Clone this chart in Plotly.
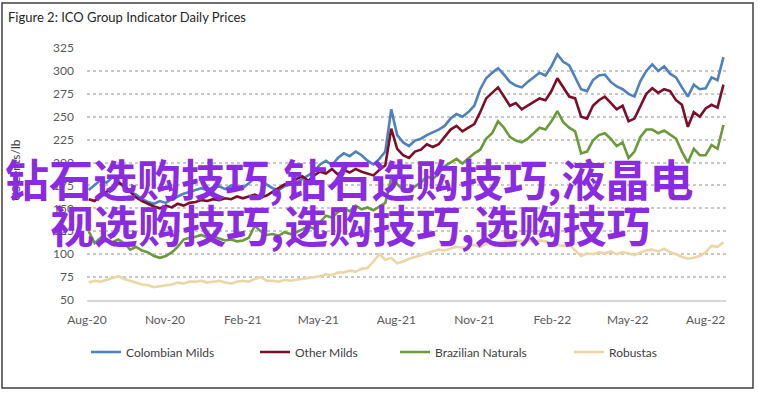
import pandas as pd
import plotly.graph_objects as go

# weekly sample dates (categories on the time axis)
dates = pd.date_range("2020-08-03", periods=108, freq="7D")

colombian_milds = [170, 175, 181, 178, 184, 180, 172, 168, 165, 160, 157, 155, 158, 156,
                   160, 163, 166, 168, 170, 172, 170, 173, 174, 171, 175, 173, 172,
                   178, 183, 180, 176, 172, 170, 174, 176, 178, 182, 186, 190,
                   198, 202, 197, 205, 210, 207, 212, 208, 202, 198, 204, 212, 258,
                   230, 222, 218, 224, 226, 230, 233, 236, 240, 248, 253, 250, 255,
                   262, 280, 292, 298, 303, 296, 288, 284, 282, 288, 293, 298, 295,
                   305, 318, 310, 306, 293, 280, 278, 290, 295, 296, 288, 283, 280,
                   275, 272, 289, 300, 307, 300, 305, 297, 293, 282, 272, 285, 280,
                   281, 293, 290, 315]

other_milds = [160, 158, 164, 168, 172, 178, 175, 168, 162, 158, 155, 152, 150, 153,
               151, 155, 153, 156, 157, 159, 158, 160, 159, 161, 160, 163, 161,
               163, 165, 162, 164, 168, 172, 176, 178, 182, 185, 180, 186,
               190, 188, 193, 187, 192, 189, 193, 190, 188, 186, 192, 197, 237,
               215, 208, 205, 212, 214, 220, 217, 220, 228, 236, 240, 234, 238,
               242, 255, 270, 276, 282, 272, 262, 265, 258, 262, 266, 270, 268,
               278, 292, 282, 272, 270, 250, 248, 262, 268, 272, 265, 258, 262,
               245, 248, 262, 275, 281, 276, 280, 278, 268, 263, 239, 255, 250,
               259, 263, 260, 285]

brazilian_naturals = [125, 112, 118, 115, 113, 116, 112, 105, 108, 104, 102, 98, 96, 98,
                      102, 108, 116, 118, 119, 121, 118, 120, 117, 115, 116, 114, 115,
                      118, 131, 125, 121, 122, 120, 124, 122, 124, 127, 130, 128,
                      135, 142, 140, 146, 150, 147, 153, 149, 151, 148, 152, 156, 183,
                      176, 170, 168, 174, 178, 185, 182, 188, 196, 200, 204, 199, 205,
                      210, 214, 226, 232, 245, 238, 228, 224, 222, 226, 232, 238, 236,
                      245, 256, 244, 238, 234, 210, 212, 224, 230, 232, 226, 218, 222,
                      205, 212, 228, 236, 236, 232, 235, 230, 226, 212, 200, 215, 208,
                      208, 219, 215, 241]

robustas = [69, 71, 70, 72, 74, 76, 73, 71, 69, 67, 66, 64, 65, 66,
            67, 69, 68, 70, 70, 71, 69, 70, 71, 69, 68, 70, 71,
            70, 73, 75, 71, 71, 70, 72, 71, 72, 73, 74, 75,
            76, 78, 77, 80, 80, 82, 81, 84, 85, 92, 100, 94, 96,
            90, 92, 95, 97, 99, 101, 103, 105, 104, 106, 108, 107, 109,
            110, 108, 111, 112, 113, 114, 116, 115, 114, 116, 113, 115, 114,
            112, 110, 109, 111, 104, 98, 101, 100, 102, 101, 103, 100, 102,
            101, 99, 102, 104, 105, 103, 106, 102, 100, 97, 95, 96, 98,
            102, 109, 108, 113]

series_names = ["Colombian Milds", "Other Milds", "Brazilian Naturals", "Robustas"]
series_colors = ["#4F81BD", "#7B0F27", "#6B9A3A", "#EBD6A4"]
series_values = [colombian_milds, other_milds, brazilian_naturals, robustas]

x_tick_vals = ["2020-08-01", "2020-11-01", "2021-02-01", "2021-05-01", "2021-08-01",
               "2021-11-01", "2022-02-01", "2022-05-01", "2022-08-01"]
x_tick_text = ["Aug-20", "Nov-20", "Feb-21", "May-21", "Aug-21",
               "Nov-21", "Feb-22", "May-22", "Aug-22"]
y_tick_vals = [50, 75, 100, 125, 150, 175, 200, 225, 250, 275, 300, 325]

# legend line-start pixel positions
legend_px = [93, 262, 402, 576]

W, H = 758, 393
L, R, T, B = 87, 32, 48, 93
pw, ph = W - L - R, H - T - B

def px_x(p):
    return (p - L) / pw

def px_y(p):
    return (H - B - p) / ph

fig = go.Figure()
legend_keys = ["legend", "legend2", "legend3", "legend4"]
for name, color, vals, lk in zip(series_names, series_colors, series_values, legend_keys):
    fig.add_trace(go.Scatter(x=dates, y=vals, mode="lines", name=name,
                             line=dict(color=color, width=2.6), legend=lk))

font_tick = dict(family="Lato, 'Open Sans', sans-serif", size=12, color="#595959")

legend_layout = {}
for lk, p in zip(legend_keys, legend_px):
    legend_layout[lk] = dict(x=px_x(p - 7), y=px_y(352), xanchor="left", yanchor="middle",
                             orientation="h", bgcolor="rgba(0,0,0,0)", borderwidth=0,
                             font=dict(family="Lato, 'Open Sans', sans-serif", size=12, color="#404040"))

fig.update_layout(
    width=W, height=H,
    margin=dict(l=L, r=R, t=T, b=B),
    paper_bgcolor="white", plot_bgcolor="white",
    title=dict(text="Figure 2: ICO Group Indicator Daily Prices", x=8 / W, xanchor="left",
               xref="container", y=1 - 17 / H, yanchor="middle", yref="container",
               font=dict(family="Lato, 'Open Sans', sans-serif", size=13, color="#262626")),
    xaxis=dict(type="date", range=["2020-08-01", "2022-08-25"], tickvals=x_tick_vals,
               ticktext=x_tick_text, showgrid=False, showline=True, linecolor="#D9D9D9",
               linewidth=1.5, ticks="", tickfont=font_tick, ticklabelstandoff=8,
               zeroline=False),
    yaxis=dict(range=[50, 325], tickvals=y_tick_vals, showgrid=True, gridcolor="#C8C8C8",
               griddash="dot", gridwidth=1.5, ticks="", tickfont=font_tick,
               ticklabelstandoff=12, zeroline=False, showline=False),
    showlegend=True,
    **legend_layout,
)

fig.add_annotation(text="US cents/lb", x=px_x(15), y=px_y(170), xref="paper", yref="paper",
                   textangle=-90, showarrow=False, xanchor="center", yanchor="middle",
                   font=dict(family="Lato, 'Open Sans', sans-serif", size=12, color="#404040"))

overlay_font = dict(family="'Noto Sans CJK SC', sans-serif", size=44, color="#8A2BE2", weight="bold")
fig.add_annotation(text="钻石选购技巧,钻石选购技巧,液晶电", x=px_x(349), y=px_y(178),
                   xref="paper", yref="paper", showarrow=False, xanchor="center",
                   yanchor="middle", font=overlay_font)
fig.add_annotation(text="视选购技巧,选购技巧,选购技巧", x=px_x(350), y=px_y(224),
                   xref="paper", yref="paper", showarrow=False, xanchor="center",
                   yanchor="middle", font=overlay_font)

fig.add_shape(type="rect", xref="paper", yref="paper",
              x0=px_x(2), x1=px_x(753), y0=px_y(388), y1=px_y(3),
              line=dict(color="#404040", width=1.5), fillcolor="rgba(0,0,0,0)", layer="above")

fig.write_html("out.html", config={"displayModeBar": False},
               post_script="document.body.style.margin='0';document.body.style.overflow='hidden';")
